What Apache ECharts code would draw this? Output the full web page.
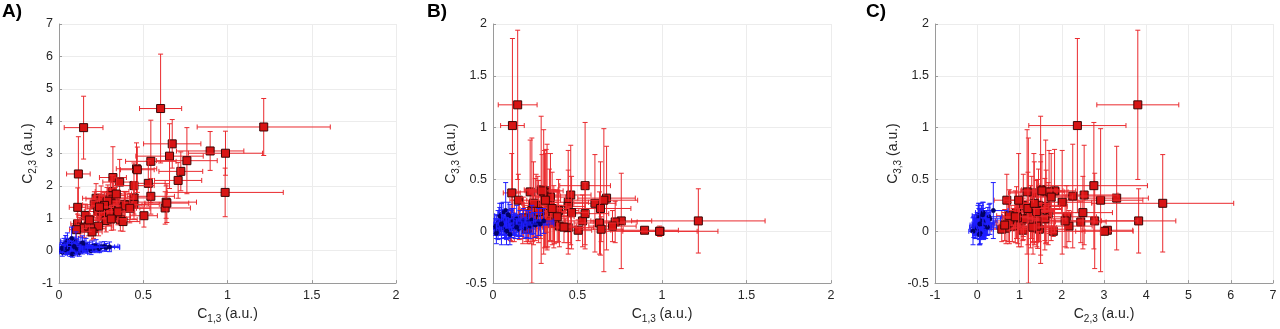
<!DOCTYPE html>
<html>
<head>
<meta charset="utf-8">
<script src="https://cdn.jsdelivr.net/npm/echarts@6/dist/echarts.min.js"></script>
<style>html,body{margin:0;padding:0;background:#fff}#c{width:1280px;height:329px}</style>
</head>
<body>
<div id="c"></div>
<script>
// ---- Red group: C13, C23, C33 with symmetric errors ----
const redC13 = [0.603,0.146,1.215,0.672,0.897,0.988,0.656,0.759,0.545,0.115,0.460,0.723,0.320,0.360,0.707,0.530,0.445,0.986,0.545,0.445,0.636,0.630,0.504,0.111,0.445,0.640,
  0.22,0.25,0.315,0.305,0.32,0.285,0.334,0.388,0.36,0.21,0.265,0.23,0.305,0.255,0.324,0.364,0.28,0.156,0.11,0.126,0.15,0.176,0.205,0.235,0.196,0.103,0.393,0.42,0.465,0.34,0.30,0.29,0.27,0.35,0.18,0.38,0.24,0.31];
const redE13 = [0.125,0.115,0.395,0.17,0.20,0.22,0.20,0.18,0.15,0.07,0.12,0.13,0.08,0.10,0.14,0.10,0.12,0.345,0.14,0.10,0.18,0.15,0.08,0.05,0.15,0.13,
  0.08,0.09,0.10,0.09,0.12,0.10,0.10,0.12,0.10,0.07,0.08,0.08,0.09,0.07,0.10,0.10,0.08,0.05,0.04,0.05,0.05,0.06,0.07,0.08,0.06,0.04,0.10,0.12,0.10,0.09,0.08,0.10,0.08,0.10,0.06,0.10,0.07,0.09];
const redC23 = [4.39,3.80,3.82,3.30,3.08,3.01,2.92,2.78,2.76,2.37,2.53,2.45,2.26,2.12,2.17,2.08,2.01,1.80,1.68,1.63,1.50,1.32,1.08,1.34,1.43,1.47,
  1.62,1.60,1.83,1.70,1.60,1.50,1.45,1.43,1.31,1.42,1.29,1.21,1.26,1.09,1.04,0.96,0.93,1.09,0.83,0.73,0.70,0.76,0.68,0.76,0.58,0.65,1.41,1.31,2.50,1.75,1.18,1.53,1.40,1.20,0.95,0.90,1.35,0.98];
const redE23 = [1.68,0.97,0.88,0.75,0.60,0.68,1.00,1.02,1.27,1.15,0.80,0.60,0.95,0.70,0.55,0.70,0.70,0.75,0.55,0.50,0.50,0.50,0.35,0.60,0.45,0.60,
  0.45,0.40,0.50,0.45,0.50,0.45,0.50,0.40,0.45,0.40,0.40,0.35,0.40,0.35,0.40,0.35,0.35,0.35,0.30,0.30,0.30,0.30,0.30,0.30,0.25,0.30,0.40,0.45,0.70,0.50,0.40,0.50,0.40,0.40,0.35,0.30,0.40,0.35];
const redC33 = [0.27,1.22,0.10,0.32,0.01,0.00,0.30,0.10,0.44,1.02,0.35,0.09,0.34,0.14,0.05,0.10,0.28,0.00,0.17,0.24,0.22,0.08,0.01,0.37,0.035,0.02,
  0.38,0.21,0.39,0.38,0.12,0.40,0.25,0.20,0.15,0.10,0.23,0.20,0.14,0.25,0.10,0.08,0.18,0.12,0.05,0.10,0.30,0.08,0.03,0.15,0.02,0.06,0.05,0.04,0.18,0.33,0.38,0.39,0.19,0.22,0.13,0.14,0.27,0.30];
const redE33 = [0.47,0.72,0.31,0.50,0.03,0.03,0.69,0.46,0.61,0.84,0.48,0.20,0.50,0.30,0.15,0.25,0.50,0.05,0.30,0.35,0.45,0.30,0.10,0.38,0.20,0.12,
  0.50,0.30,0.40,0.40,0.30,0.71,0.35,0.30,0.25,0.20,0.30,0.70,0.30,0.30,0.25,0.20,0.25,0.20,0.15,0.20,0.25,0.20,0.15,0.25,0.12,0.15,0.20,0.15,0.35,0.42,0.60,0.35,0.30,0.35,0.20,0.25,0.40,0.45];

// ---- Blue group ----
const blueC13 = [0.01,0.02,0.02,0.03,0.03,0.04,0.04,0.05,0.05,0.06,0.06,0.07,0.07,0.08,0.08,0.09,0.09,0.10,0.10,0.11,0.11,0.12,0.12,0.13,0.13,0.14,0.15,0.15,0.16,0.17,0.18,0.19,0.20,0.21,0.22,0.23,0.24,0.25,0.27,0.28,0.30,0.075,0.04,0.06,0.02,0.08,0.10,0.14,0.05,0.09];
const blueE13 = [0.02,0.03,0.02,0.03,0.02,0.03,0.02,0.03,0.04,0.03,0.02,0.04,0.03,0.03,0.05,0.04,0.03,0.04,0.05,0.04,0.03,0.05,0.04,0.05,0.04,0.05,0.05,0.04,0.06,0.05,0.06,0.05,0.06,0.07,0.06,0.07,0.07,0.08,0.08,0.08,0.06,0.04,0.03,0.03,0.02,0.03,0.03,0.04,0.02,0.04];
const blueC23 = [0.02,0.10,-0.05,0.18,0.05,0.25,-0.02,0.12,0.30,0.00,0.08,0.20,-0.08,0.15,0.06,0.22,-0.03,0.10,0.28,0.04,0.16,-0.06,0.12,0.07,0.20,0.02,0.14,0.08,0.18,0.05,0.11,0.00,0.14,0.08,0.16,0.10,0.06,0.12,0.14,0.10,0.12,0.38,0.03,0.14,0.07,-0.10,0.05,0.24,0.06,0.13];
const blueE23 = [0.10,0.15,0.12,0.20,0.10,0.22,0.09,0.16,0.25,0.12,0.14,0.18,0.10,0.20,0.12,0.20,0.13,0.15,0.30,0.12,0.17,0.11,0.16,0.14,0.20,0.12,0.16,0.12,0.20,0.13,0.15,0.12,0.16,0.14,0.18,0.13,0.12,0.15,0.14,0.12,0.15,0.35,0.15,0.18,0.12,0.10,0.16,0.22,0.18,0.14];
const blueC33 = [0.04,0.06,0.02,0.08,0.00,0.10,0.05,0.03,0.12,0.07,0.09,0.02,0.04,0.06,0.11,0.08,0.01,0.05,0.14,0.09,0.03,0.06,0.10,0.04,0.07,0.12,0.05,0.02,0.08,0.06,0.10,0.03,0.07,0.09,0.05,0.11,0.08,0.06,0.09,0.07,0.10,0.20,0.15,0.18,-0.02,0.00,-0.03,0.04,0.07,0.16];
const blueE33 = [0.08,0.10,0.09,0.12,0.08,0.13,0.07,0.10,0.15,0.11,0.12,0.09,0.10,0.14,0.10,0.12,0.08,0.11,0.12,0.13,0.09,0.10,0.12,0.11,0.10,0.13,0.10,0.09,0.12,0.11,0.12,0.10,0.13,0.11,0.12,0.14,0.10,0.12,0.13,0.11,0.12,0.27,0.12,0.10,0.10,0.13,0.10,0.08,0.20,0.12];

// ---- Axis ticks ----
const xTicksAB = {min: 0, max: 2, interval: 0.5};
const yTicksA = {min: -1, max: 7, interval: 1};
const yTicksBC = {min: -0.5, max: 2, interval: 0.5};
const xTicksC = {min: -1, max: 7, interval: 1};

function zip(a, ea, b, eb) { return a.map((v, i) => [v, ea[i], b[i], eb[i]]); }

const FONT = 'Liberation Sans, Arial, Helvetica, sans-serif';
const TXT = '#262626';

function render(lineColor, fill, edge, square) {
  return function (params, api) {
    const x = api.value(0), ex = api.value(1), y = api.value(2), ey = api.value(3);
    const c = api.coord([x, y]);
    const l = api.coord([x - ex, y]), r = api.coord([x + ex, y]);
    const t = api.coord([x, y + ey]), b = api.coord([x, y - ey]);
    const cap = 2.5;
    const st = {stroke: lineColor, lineWidth: 1};
    const ch = [
      {type: 'line', shape: {x1: l[0], y1: c[1], x2: r[0], y2: c[1]}, style: st},
      {type: 'line', shape: {x1: c[0], y1: t[1], x2: c[0], y2: b[1]}, style: st},
      {type: 'line', shape: {x1: l[0], y1: c[1] - cap, x2: l[0], y2: c[1] + cap}, style: st},
      {type: 'line', shape: {x1: r[0], y1: c[1] - cap, x2: r[0], y2: c[1] + cap}, style: st},
      {type: 'line', shape: {x1: c[0] - cap, y1: t[1], x2: c[0] + cap, y2: t[1]}, style: st},
      {type: 'line', shape: {x1: c[0] - cap, y1: b[1], x2: c[0] + cap, y2: b[1]}, style: st}
    ];
    if (square) {
      ch.push({type: 'rect', shape: {x: c[0] - 4, y: c[1] - 4, width: 8, height: 8}, style: {fill: fill, stroke: edge, lineWidth: 1}});
    } else {
      ch.push({type: 'circle', shape: {cx: c[0], cy: c[1], r: 2.2}, style: {fill: fill, stroke: edge, lineWidth: 0.5}});
    }
    return {type: 'group', children: ch};
  };
}

function axisName(main, sub) {
  return '{m|' + main + '}{s|' + sub + '}{m| (a.u.)}';
}
const nameStyle = {
  rich: {
    m: {fontSize: 14, fontFamily: FONT, color: TXT, lineHeight: 17, verticalAlign: 'top'},
    s: {fontSize: 10, fontFamily: FONT, color: TXT, lineHeight: 17, verticalAlign: 'top', padding: [7, 0, 0, 0]}
  }
};

function xAxis(idx, ticks, name) {
  return Object.assign({
    type: 'value', gridIndex: idx, name: name, nameLocation: 'middle', nameGap: 20,
    nameTextStyle: nameStyle,
    axisLine: {show: true, onZero: false, lineStyle: {color: '#9a9a9a', width: 1}},
    axisTick: {show: true, inside: true, length: 3, lineStyle: {color: '#9a9a9a'}},
    axisLabel: {color: TXT, fontSize: 12.5, fontFamily: FONT, margin: 6, showMinLabel: true, showMaxLabel: true},
    splitLine: {show: true, lineStyle: {color: '#ececec', width: 1}}
  }, ticks);
}
function yAxis(idx, ticks, name) {
  return Object.assign({
    type: 'value', gridIndex: idx, name: name, nameLocation: 'middle', nameGap: 21, nameRotate: 90,
    nameTextStyle: nameStyle,
    axisLine: {show: true, onZero: false, lineStyle: {color: '#9a9a9a', width: 1}},
    axisTick: {show: true, inside: true, length: 3, lineStyle: {color: '#9a9a9a'}},
    axisLabel: {color: TXT, fontSize: 12.5, fontFamily: FONT, margin: 6, showMinLabel: true, showMaxLabel: true},
    splitLine: {show: true, lineStyle: {color: '#ececec', width: 1}}
  }, ticks);
}

const RED_LINE = '#ea2a2e', RED_FILL = '#d81414', RED_EDGE = '#3a0606';
const BLUE_LINE = '#1f1fff', BLUE_FILL = '#00006e', BLUE_EDGE = '#00004a';

const panels = [
  [zip(redC13, redE13, redC23, redE23), zip(blueC13, blueE13, blueC23, blueE23)],
  [zip(redC13, redE13, redC33, redE33), zip(blueC13, blueE13, blueC33, blueE33)],
  [zip(redC23, redE23, redC33, redE33), zip(blueC23, blueE23, blueC33, blueE33)]
];

const series = [];
panels.forEach((p, i) => {
  series.push({type: 'custom', xAxisIndex: i, yAxisIndex: i, data: p[0], renderItem: render(RED_LINE, RED_FILL, RED_EDGE, true), encode: {x: 0, y: 2}, clip: true, z: 2});
  series.push({type: 'custom', xAxisIndex: i, yAxisIndex: i, data: p[1], renderItem: render(BLUE_LINE, BLUE_FILL, BLUE_EDGE, false), encode: {x: 0, y: 2}, clip: true, z: 3});
});

const chart = echarts.init(document.getElementById('c'), null, {renderer: 'canvas'});
chart.setOption({
  animation: false,
  backgroundColor: '#fff',
  grid: [
    {left: 59, top: 24, width: 337, height: 260},
    {left: 493, top: 24, width: 338, height: 260},
    {left: 935, top: 24, width: 338, height: 260}
  ],
  xAxis: [
    xAxis(0, xTicksAB, axisName('C', '1,3')),
    xAxis(1, xTicksAB, axisName('C', '1,3')),
    xAxis(2, xTicksC, axisName('C', '2,3'))
  ],
  yAxis: [
    yAxis(0, yTicksA, axisName('C', '2,3')),
    yAxis(1, yTicksBC, axisName('C', '3,3')),
    yAxis(2, yTicksBC, axisName('C', '3,3'))
  ],
  graphic: [
    {type: 'text', left: 2, top: 2, style: {text: 'A)', font: 'bold 19px ' + FONT, fill: '#000'}},
    {type: 'text', left: 427, top: 2, style: {text: 'B)', font: 'bold 19px ' + FONT, fill: '#000'}},
    {type: 'text', left: 866, top: 2, style: {text: 'C)', font: 'bold 19px ' + FONT, fill: '#000'}}
  ],
  series: series
});
</script>
</body>
</html>
